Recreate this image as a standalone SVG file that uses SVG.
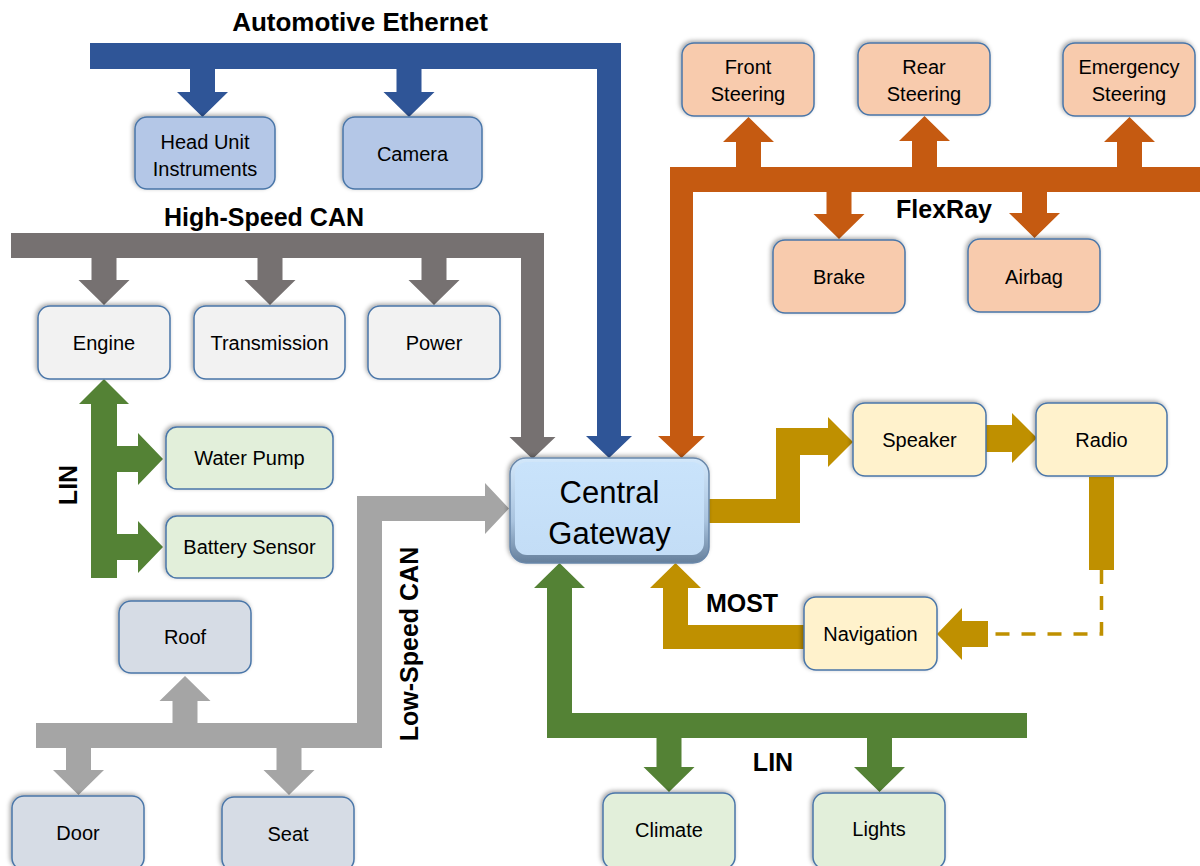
<svg xmlns="http://www.w3.org/2000/svg" width="1200" height="866" viewBox="0 0 1200 866">
<defs>
<filter id="sh" x="-20%" y="-20%" width="140%" height="140%">
<feDropShadow dx="-1.5" dy="-1.5" stdDeviation="2" flood-color="#000" flood-opacity="0.35"/>
</filter>
<linearGradient id="gwOuter" x1="0" y1="0" x2="0" y2="1">
<stop offset="0" stop-color="#d3e8fb"/>
<stop offset="0.6" stop-color="#a9c3de"/>
<stop offset="1" stop-color="#66809c"/>
</linearGradient>
<linearGradient id="gwInner" x1="0" y1="0" x2="0" y2="1">
<stop offset="0" stop-color="#c9e3fb"/>
<stop offset="1" stop-color="#c3ddf6"/>
</linearGradient>
<style>
.box{stroke:#4a76a8;stroke-width:1.5;filter:url(#sh)}
.eth{fill:#b4c7e7}.fr{fill:#f8cbad}.hs{fill:#f2f2f2}.lin{fill:#e2efda}.ls{fill:#d6dce5}.most{fill:#fff2cc}
.t{font-family:"Liberation Sans",Arial,sans-serif;font-size:20px;fill:#000;text-anchor:middle}
.lbl{font-family:"Liberation Sans",Arial,sans-serif;font-size:25px;font-weight:bold;fill:#000;text-anchor:middle}
.cEth{fill:#2f5597}.cHs{fill:#767171}.cFr{fill:#c55a11}.cLin{fill:#548235}.cLs{fill:#a5a5a5}.cMost{fill:#bf9000}
</style>
</defs>
<rect width="1200" height="866" fill="#fff"/>

<g id="connectors">
<!-- Automotive Ethernet -->
<polygon class="cEth" points="90,43 621,43 621,436 632,436 609,458 586,436 597,436 597,69 90,69"/>
<polygon class="cEth" points="190,69 215,69 215,92 228,92 202.5,117 177,92 190,92"/>
<polygon class="cEth" points="396.5,69 421.5,69 421.5,92 434.5,92 409,117 383.5,92 396.5,92"/>
<!-- High-Speed CAN -->
<polygon class="cHs" points="11,233 544,233 544,437 555.5,437 532.5,459 509.5,437 521,437 521,258 11,258"/>
<polygon class="cHs" points="91.5,258 116.5,258 116.5,280 129.5,280 104,305 78.5,280 91.5,280"/>
<polygon class="cHs" points="257.5,258 282.5,258 282.5,280 295.5,280 270,305 244.5,280 257.5,280"/>
<polygon class="cHs" points="421.5,258 446.5,258 446.5,280 459.5,280 434,305 408.5,280 421.5,280"/>
<!-- FlexRay -->
<polygon class="cFr" points="670,167 1200,167 1200,192 693,192 693,436 705,436 681.5,458 658,436 670,436"/>
<polygon class="cFr" points="736,167 761,167 761,142 774,142 748.5,117 723,142 736,142"/>
<polygon class="cFr" points="912,167 937,167 937,141 950,141 924.5,116 899,141 912,141"/>
<polygon class="cFr" points="1117,167 1142,167 1142,142 1155,142 1129.5,117 1104,142 1117,142"/>
<polygon class="cFr" points="826.5,192 851.5,192 851.5,214 864.5,214 839,239 813.5,214 826.5,214"/>
<polygon class="cFr" points="1022,192 1047,192 1047,213 1060,213 1034.5,238 1009,213 1022,213"/>
<!-- LIN (engine side) -->
<polygon class="cLin" points="91,578 91,404 79,404 104,379 129,404 117,404 117,446 138,446 138,433 163,459 138,485 138,472 117,472 117,534 138,534 138,521 163,547 138,573 138,560 117,560 117,578"/>
<!-- Low-Speed CAN -->
<polygon class="cLs" points="36,723 357,723 357,496 485,496 485,483 509,508.5 485,534 485,521 382,521 382,748 36,748"/>
<polygon class="cLs" points="172.5,723 197.5,723 197.5,701 210.5,701 185,676 159.5,701 172.5,701"/>
<polygon class="cLs" points="66,748 91,748 91,770 104,770 78.5,795 53,770 66,770"/>
<polygon class="cLs" points="276.5,748 301.5,748 301.5,770 314.5,770 289,795 263.5,770 276.5,770"/>
<!-- LIN (gateway) -->
<polygon class="cLin" points="547,588 534,588 559.5,563 585,588 572,588 572,713 1027,713 1027,738 547,738"/>
<polygon class="cLin" points="656.5,738 681.5,738 681.5,767 694.5,767 669,792 643.5,767 656.5,767"/>
<polygon class="cLin" points="867,738 892,738 892,767 905,767 879.5,792 854,767 867,767"/>
<!-- MOST -->
<polygon class="cMost" points="705,499 776,499 776,428 828,428 828,417 853,442 828,467 828,455 800,455 800,523 705,523"/>
<polygon class="cMost" points="986,425 1012,425 1012,413 1037,438 1012,463 1012,452 986,452"/>
<rect class="cMost" x="1089" y="477" width="25" height="93"/>
<path d="M1101.5,570 V634 H988" fill="none" stroke="#bf9000" stroke-width="3.5" stroke-dasharray="14 12"/>
<polygon class="cMost" points="988,621 962,621 962,608 937,634 962,660 962,647 988,647"/>
<polygon class="cMost" points="805,625 688,625 688,588 701,588 675.5,563 650,588 663,588 663,649 805,649"/>
</g>

<g id="labels">
<text class="lbl" x="360" y="31" style="font-size:26px">Automotive Ethernet</text>
<text class="lbl" x="264" y="226">High-Speed CAN</text>
<text class="lbl" x="944" y="218">FlexRay</text>
<text class="lbl" x="742" y="612">MOST</text>
<text class="lbl" x="773" y="771">LIN</text>
<text class="lbl" transform="translate(77,485) rotate(-90)">LIN</text>
<text class="lbl" transform="translate(418,644) rotate(-90)">Low-Speed CAN</text>
</g>

<g id="node-headunit"><rect class="box eth" x="135" y="117" width="140" height="72" rx="12"/><text class="t" x="205" y="149">Head Unit</text><text class="t" x="205" y="176">Instruments</text></g>
<g id="node-camera"><rect class="box eth" x="343" y="117" width="139" height="72" rx="12"/><text class="t" x="412.5" y="161">Camera</text></g>

<g id="node-frontsteering"><rect class="box fr" x="682" y="43" width="132" height="73" rx="12"/><text class="t" x="748" y="74">Front</text><text class="t" x="748" y="101">Steering</text></g>
<g id="node-rearsteering"><rect class="box fr" x="858" y="43" width="132" height="72" rx="12"/><text class="t" x="924" y="74">Rear</text><text class="t" x="924" y="101">Steering</text></g>
<g id="node-emergencysteering"><rect class="box fr" x="1063" y="43" width="132" height="73" rx="12"/><text class="t" x="1129" y="74">Emergency</text><text class="t" x="1129" y="101">Steering</text></g>
<g id="node-brake"><rect class="box fr" x="773" y="240" width="132" height="73" rx="12"/><text class="t" x="839" y="284">Brake</text></g>
<g id="node-airbag"><rect class="box fr" x="968" y="239" width="132" height="73" rx="12"/><text class="t" x="1034" y="284">Airbag</text></g>

<g id="node-engine"><rect class="box hs" x="38" y="306" width="132" height="73" rx="12"/><text class="t" x="104" y="350">Engine</text></g>
<g id="node-transmission"><rect class="box hs" x="194" y="306" width="151" height="73" rx="12"/><text class="t" x="269.5" y="350">Transmission</text></g>
<g id="node-power"><rect class="box hs" x="368" y="306" width="132" height="73" rx="12"/><text class="t" x="434" y="350">Power</text></g>

<g id="node-waterpump"><rect class="box lin" x="166" y="427" width="167" height="62" rx="11"/><text class="t" x="249.5" y="465">Water Pump</text></g>
<g id="node-batterysensor"><rect class="box lin" x="166" y="516" width="167" height="62" rx="11"/><text class="t" x="249.5" y="554">Battery Sensor</text></g>

<g id="node-roof"><rect class="box ls" x="119" y="601" width="132" height="72" rx="12"/><text class="t" x="185" y="644">Roof</text></g>
<g id="node-door"><rect class="box ls" x="12" y="796" width="132" height="74" rx="12"/><text class="t" x="78" y="840">Door</text></g>
<g id="node-seat"><rect class="box ls" x="222" y="797" width="132" height="74" rx="12"/><text class="t" x="288" y="841">Seat</text></g>

<g id="node-gateway">
<rect x="510" y="458" width="199" height="105" rx="16" fill="url(#gwOuter)" stroke="#6a88aa" stroke-width="1.5" filter="url(#sh)"/>
<rect x="515" y="462" width="189" height="93" rx="12" fill="url(#gwInner)"/>
<text class="t" x="609.5" y="503" style="font-size:31px">Central</text>
<text class="t" x="609.5" y="544" style="font-size:31px">Gateway</text>
</g>

<g id="node-speaker"><rect class="box most" x="853" y="403" width="133" height="73" rx="12"/><text class="t" x="919.5" y="447">Speaker</text></g>
<g id="node-radio"><rect class="box most" x="1036" y="403" width="131" height="73" rx="12"/><text class="t" x="1101.5" y="447">Radio</text></g>
<g id="node-navigation"><rect class="box most" x="804" y="597" width="133" height="73" rx="12"/><text class="t" x="870.5" y="641">Navigation</text></g>

<g id="node-climate"><rect class="box lin" x="603" y="793" width="132" height="76" rx="12"/><text class="t" x="669" y="837">Climate</text></g>
<g id="node-lights"><rect class="box lin" x="813" y="793" width="132" height="76" rx="12"/><text class="t" x="879" y="836">Lights</text></g>
</svg>
